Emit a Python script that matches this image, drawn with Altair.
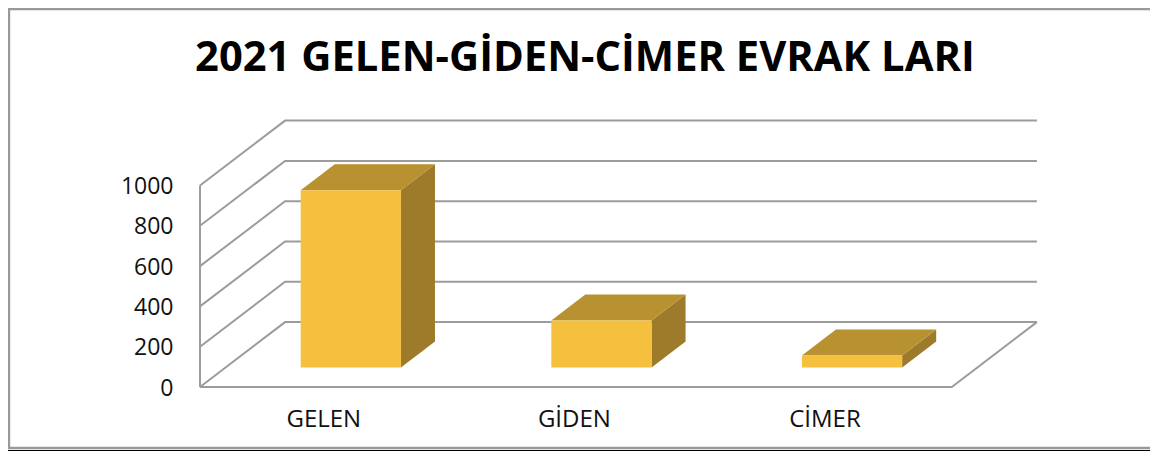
import altair as alt
import pandas as pd

# --- values
categories = ["GELEN", "GİDEN", "CİMER"]
values = [880, 234, 60]
grid_values = [0, 200, 400, 600, 800, 1000]
title_text = "2021 GELEN-GİDEN-CİMER EVRAK LARI"

# --- oblique projection parameters (data units)
DX = 0.3395    # shift in category units per unit of depth
DY = 322.0     # shift in value units per unit of depth
D0, D1 = 0.30, 0.70   # depth range occupied by the bars
BAR_HALF = 0.2

W, H = 1142, 443
X_PER_CAT = 250.6
Y_PER_VAL = 0.2015
x0_px, y0_px = 192, 379
x_domain = [-x0_px / X_PER_CAT, (W - x0_px) / X_PER_CAT]
y_domain = [-(H - y0_px) / Y_PER_VAL, y0_px / Y_PER_VAL]
n = len(categories)


def px(c, d):
    return c + d * DX


def py(v, d):
    return v + d * DY


grid_rows = []
for v in grid_values:
    for i, (c, d) in enumerate([(0, 0), (0, 1), (n, 1)]):
        grid_rows.append(dict(g=f"v{v}", i=i, x=px(c, d), y=py(v, d)))
for i, (c, d) in enumerate([(n, 1), (n, 0), (0, 0)]):
    grid_rows.append(dict(g="floor", i=i, x=px(c, d), y=py(0, d)))
for i, v in enumerate([0, 1000]):
    grid_rows.append(dict(g="wall", i=i, x=px(0, 0), y=py(v, 0)))
grid_df = pd.DataFrame(grid_rows)

# outer frame of the chart, in the same data units
fx0, fx1 = x_domain[0] + 1 / X_PER_CAT, x_domain[1]
fy0, fy1 = y_domain[0] + 3 / Y_PER_VAL, y_domain[1] - 1 / Y_PER_VAL
frame_df = pd.DataFrame([
    dict(i=0, x=fx1, y=fy1), dict(i=1, x=fx0, y=fy1),
    dict(i=2, x=fx0, y=fy0), dict(i=3, x=fx1, y=fy0),
])
edge_df = pd.DataFrame([
    dict(i=0, x=x_domain[0], y=y_domain[0] + 0.5 / Y_PER_VAL),
    dict(i=1, x=x_domain[1], y=y_domain[0] + 0.5 / Y_PER_VAL),
])

front, top, side = [], [], []
for k, (cat, val) in enumerate(zip(categories, values)):
    cl, cr = k + 0.5 - BAR_HALF, k + 0.5 + BAR_HALF
    front.append(dict(cat=cat, x=px(cl, D0), x2=px(cr, D0), y=py(0, D0), y2=py(val, D0)))
    side.append(dict(cat=cat, x=px(cr, D0), y=py(0, D0), y2=py(val, D0)))
    side.append(dict(cat=cat, x=px(cr, D1), y=py(0, D1), y2=py(val, D1)))
    lowx = [px(cl, D0), px(cl, D1), px(cr, D0), px(cr, D1)]
    low = [py(val, D0), py(val, D0), py(val, D0), py(val, D1)]
    upp = [py(val, D0), py(val, D1), py(val, D1), py(val, D1)]
    for a, b, c in zip(lowx, low, upp):
        top.append(dict(cat=cat, x=a, y=b, y2=c))
front_df, top_df, side_df = pd.DataFrame(front), pd.DataFrame(top), pd.DataFrame(side)

xs = alt.Scale(domain=x_domain, nice=False, zero=False)
ys = alt.Scale(domain=y_domain, nice=False, zero=False)
X = alt.X("x:Q", scale=xs, axis=None)
Y = alt.Y("y:Q", scale=ys, stack=None,
          axis=alt.Axis(values=grid_values, title=None, domain=False, ticks=False, grid=False,
                        offset=-165, labelFont="Open Sans", labelFontSize=23, labelColor="#111111",
                        labelPadding=0, labelOffset=1, format="d"))

frame = alt.Chart(frame_df).mark_line(color="#999999", strokeWidth=2.4).encode(x=X, y=Y, order="i:Q")
edge = alt.Chart(edge_df).mark_line(color="#000000", strokeWidth=1).encode(x=X, y=Y, order="i:Q")
grid = alt.Chart(grid_df).mark_line(color="#9c9c9c", strokeWidth=2).encode(
    x=X, y=Y, detail="g:N", order="i:Q")
top_l = alt.Chart(top_df).mark_area(color="#b89131", opacity=1).encode(
    x=X, y=Y, y2="y2:Q", detail="cat:N")
side_l = alt.Chart(side_df).mark_area(color="#9e7b2a", opacity=1).encode(
    x=X, y=Y, y2="y2:Q", detail="cat:N")
front_l = alt.Chart(front_df).mark_rect(color="#f5c03e").encode(
    x=X, x2="x2:Q", y=Y, y2="y2:Q")

label_df = pd.DataFrame(dict(cat=categories, x=[k + 0.494 for k in range(n)], y=[-165] * n))
labels = alt.Chart(label_df).mark_text(font="Open Sans", fontSize=24, color="#111111").encode(
    x=X, y=Y, text="cat:N")

title_df = pd.DataFrame(dict(t=[title_text], x=[1.536], y=[1635]))
title = alt.Chart(title_df).mark_text(font="Open Sans", fontWeight="bold", fontSize=41.7, color="#000000").encode(
    x=X, y=Y, text="t:N")

chart = (alt.layer(frame, edge, grid, side_l, top_l, front_l, labels, title)
         .properties(width=W, height=H, padding=0, autosize=alt.AutoSizeParams(type="none"),
                     background="white")
         .configure_view(stroke=None))

chart.save("out.html", embed_options={"renderer": "svg", "actions": False})
